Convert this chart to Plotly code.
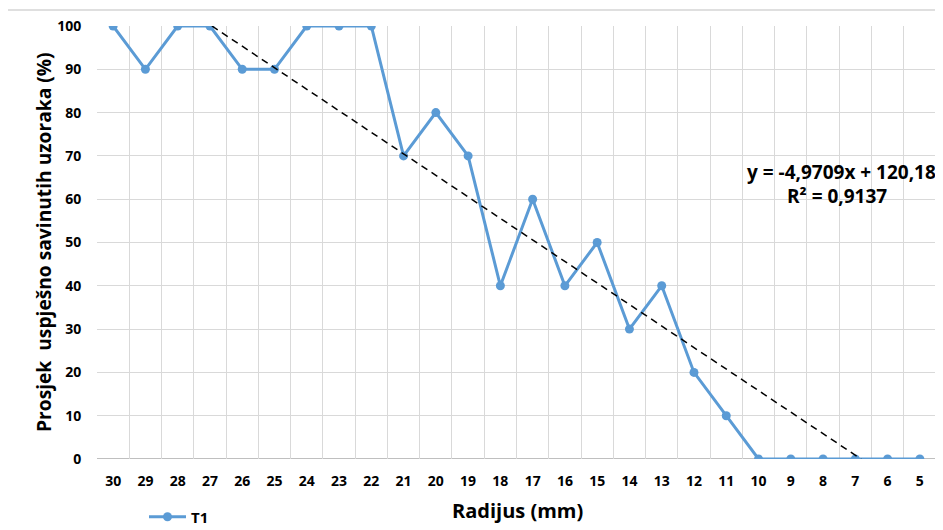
import numpy as np
import plotly.graph_objects as go

radius_labels = ["30", "29", "28", "27", "26", "25", "24", "23", "22", "21", "20", "19", "18",
                 "17", "16", "15", "14", "13", "12", "11", "10", "9", "8", "7", "6", "5"]
t1_values = [100, 90, 100, 100, 90, 90, 100, 100, 100, 70, 80, 70, 40,
             60, 40, 50, 30, 40, 20, 10, 0, 0, 0, 0, 0, 0]

xs = np.arange(1, len(radius_labels) + 1)
ys = np.array(t1_values, dtype=float)
slope, intercept = np.polyfit(xs, ys, 1)
pred = slope * xs + intercept
r2 = 1 - np.sum((ys - pred) ** 2) / np.sum((ys - ys.mean()) ** 2)

# trendline clipped to the value axis range [0, 100]
x_a = (100 - intercept) / slope
x_b = (0 - intercept) / slope
trend_x = [max(x_a, xs[0]), min(x_b, xs[-1])]
trend_y = [slope * v + intercept for v in trend_x]

FONT = "Open Sans"
BLUE = "#5B9BD5"

fig = go.Figure()
fig.add_trace(go.Scatter(x=xs, y=t1_values, mode="lines+markers", name="<b>T1</b>",
                         line=dict(color=BLUE, width=3),
                         marker=dict(color=BLUE, size=9)))
fig.add_trace(go.Scatter(x=trend_x, y=trend_y, mode="lines", showlegend=False,
                         line=dict(color="black", width=1.5, dash="7px,5px"),
                         hoverinfo="skip"))

def fmt(v, d):
    return f"{v:.{d}f}".replace(".", ",")

eq_text = f"<b>y = {fmt(slope, 4)}x + {fmt(intercept, 2)}</b>"
r2_text = f"<b>R² = {fmt(r2, 4)}</b>"

# figure is placed 8px from the page's top-left corner (page body margin)
W, H = 935, 522
ML, MR, MT, MB = 89, 7, 18, 71
PW, PH = W - ML - MR, H - MT - MB

def px(xpix):  # figure pixel -> paper x
    return (xpix - ML) / PW

def py(ypix):  # figure pixel (from top) -> paper y
    return (H - MB - ypix) / PH

tickfont = dict(size=14, family=FONT, color="#000000")

fig.update_layout(
    width=W, height=H,
    margin=dict(l=ML, r=MR, t=MT, b=MB, autoexpand=False),
    paper_bgcolor="white", plot_bgcolor="white",
    font=dict(family=FONT, color="#000000"),
    showlegend=True,
    legend=dict(x=px(136), y=py(509), xanchor="left", yanchor="middle",
                font=dict(size=15, family=FONT), itemwidth=37,
                bgcolor="rgba(0,0,0,0)"),
    xaxis=dict(range=[0.5, 26.5], tickmode="array", tickvals=xs,
               ticktext=[f"<b>{t}</b>" for t in radius_labels],
               showgrid=False, zeroline=False, showline=False,
               tickfont=tickfont, ticklabelstandoff=12,
               minor=dict(tick0=0.5, dtick=1, showgrid=True, gridcolor="#D9D9D9", gridwidth=1)),
    yaxis=dict(range=[0, 100], tickmode="array", tickvals=list(range(0, 101, 10)),
               ticktext=[f"<b>{v}</b>" for v in range(0, 101, 10)],
               showgrid=True, gridcolor="#D9D9D9", gridwidth=1,
               zeroline=False, showline=False,
               ticks="outside", ticklen=12, tickcolor="rgba(0,0,0,0)",
               tickfont=tickfont),
    shapes=[
        dict(type="line", xref="paper", yref="y", x0=0, x1=1, y0=0, y1=0,
             line=dict(color="#BFBFBF", width=2), layer="below"),
        dict(type="rect", xref="paper", yref="paper", x0=px(-1), x1=px(932), y0=py(540), y1=py(2),
             line=dict(color="#BFBFBF", width=1), fillcolor="rgba(0,0,0,0)"),
    ],
    annotations=[
        dict(text="<b>Radijus (mm)</b>", xref="paper", yref="paper", x=px(509), y=py(502),
             xanchor="center", yanchor="middle", showarrow=False,
             font=dict(size=20, family=FONT)),
        dict(text="<b>Prosjek  uspješno savinutih uzoraka (%)</b>", xref="paper", yref="paper",
             x=px(36), y=py(234), textangle=-90, xanchor="center", yanchor="middle",
             showarrow=False, font=dict(size=19.2, family=FONT)),
        dict(text=eq_text, xref="paper", yref="paper", x=px(930), y=py(164),
             xanchor="right", yanchor="middle", showarrow=False,
             font=dict(size=19, family=FONT)),
        dict(text=r2_text, xref="paper", yref="paper", x=px(829), y=py(188),
             xanchor="center", yanchor="middle", showarrow=False,
             font=dict(size=19, family=FONT)),
    ],
)

fig.write_html("out.html")
